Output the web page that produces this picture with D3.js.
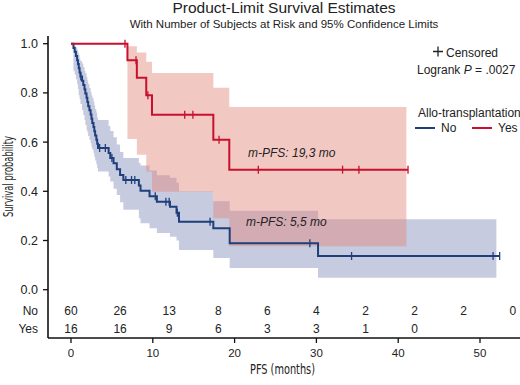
<!DOCTYPE html>
<html>
<head>
<meta charset="utf-8">
<script src="https://cdn.jsdelivr.net/npm/d3@7"></script>
<style>
  body { margin: 0; background: #fff; }
  svg text { font-family: "Liberation Sans", Arial, sans-serif; fill: #222; }
  svg .narrow { font-family: "Liberation Sans Narrow", "DejaVu Sans Condensed", sans-serif; }
</style>
</head>
<body>
<script>
// number at risk
var riskTimes = [0, 6, 12, 18, 24, 30, 36, 42, 48, 54];
var riskNo = [60, 26, 13, 8, 6, 4, 2, 2, 2, 0];
var riskYes = [16, 16, 9, 6, 3, 3, 1, 0];

// Allo-transplantation = Yes
var yesTime = [0, 6.9, 8.05, 9.2, 9.9, 17.4, 19.35];
var yesSurv = [1, 0.933, 0.862, 0.790, 0.711, 0.610, 0.488];
var yesLower = [1, 0.613, 0.549, 0.479, 0.398, 0.290, 0.177];
var yesUpper = [1, 0.990, 0.964, 0.927, 0.881, 0.821, 0.743];
var yesCensor = [6.6, 7.95, 9.4, 13.9, 14.9, 18.1, 22.9, 33.2, 35.2, 41.2];

// Allo-transplantation = No
var noTime = [0, 0.3, 0.45, 0.6, 0.75, 0.85, 0.95, 1.05, 1.15, 1.35, 1.5, 1.65, 1.75, 1.9, 2.0, 2.1, 2.25, 2.4, 2.5, 2.6, 2.75, 2.85, 2.95, 3.1, 3.2, 3.3,
  4.6, 4.8, 5.2, 5.6, 6.0, 6.4, 8.3, 8.5, 9.6, 10.5, 12.1, 12.9, 13.2, 17.4, 19.4, 30.2];
var noSurv = [1, 0.983, 0.967, 0.950, 0.933, 0.917, 0.900, 0.883, 0.867, 0.849, 0.832, 0.815, 0.798, 0.780, 0.763, 0.746, 0.729, 0.712, 0.695, 0.678, 0.661, 0.644, 0.627, 0.610, 0.593, 0.576,
  0.556, 0.535, 0.514, 0.490, 0.466, 0.446, 0.424, 0.402, 0.380, 0.358, 0.337, 0.313, 0.276, 0.250, 0.189, 0.137];
var noLower = [1, 0.89, 0.875, 0.855, 0.835, 0.815, 0.79, 0.775, 0.755, 0.73, 0.71, 0.69, 0.67, 0.65, 0.64, 0.625, 0.61, 0.595, 0.58, 0.57, 0.555, 0.54, 0.525, 0.51, 0.495, 0.48,
  0.46, 0.44, 0.41, 0.385, 0.355, 0.325, 0.29, 0.27, 0.25, 0.23, 0.215, 0.20, 0.161, 0.129, 0.088, 0.049];
var noUpper = [1, 0.998, 0.99, 0.985, 0.975, 0.965, 0.955, 0.94, 0.93, 0.92, 0.905, 0.89, 0.88, 0.865, 0.85, 0.835, 0.82, 0.805, 0.79, 0.78, 0.765, 0.75, 0.735, 0.72, 0.70, 0.69,
  0.665, 0.645, 0.62, 0.59, 0.56, 0.535, 0.515, 0.505, 0.485, 0.465, 0.455, 0.435, 0.40, 0.36, 0.321, 0.286];
var noCensor = [1.2, 3.5, 4.2, 5.0, 6.7, 7.4, 7.8, 10.3, 11.6, 12.0, 13.0, 17.0, 29.2, 34.3, 51.6, 52.4];

var xTicks = [0, 10, 20, 30, 40, 50];
var yTicks = [0, 0.2, 0.4, 0.6, 0.8, 1.0];

var blue = "#1f3f7c";
var red = "#c8102e";

var svg = d3.select("body").append("svg")
  .attr("width", 520)
  .attr("height", 385);

var x = d3.scaleLinear().domain([0, 50]).range([71, 480]);
var y = d3.scaleLinear().domain([0, 1]).range([289.7, 43.7]);

function rows(time, surv, lo, hi) {
  return time.map(function(t, i) { return {t: t, s: surv[i], lo: lo[i], hi: hi[i]}; });
}
var yesRows = rows(yesTime, yesSurv, yesLower, yesUpper);
var noRows = rows(noTime, noSurv, noLower, noUpper);

// survival value at a given time (step function)
function survAt(data, t) {
  var i = d3.bisectRight(data.map(function(d) { return d.t; }), t) - 1;
  return data[Math.max(i, 0)].s;
}
function extend(data, end) {
  var last = data[data.length - 1];
  return data.concat([{t: end, s: last.s, lo: last.lo, hi: last.hi}]);
}

var band = d3.area()
  .curve(d3.curveStepAfter)
  .x(function(d) { return x(d.t); })
  .y0(function(d) { return y(d.lo); })
  .y1(function(d) { return y(d.hi); });

var step = d3.line()
  .curve(d3.curveStepAfter)
  .x(function(d) { return x(d.t); })
  .y(function(d) { return y(d.s); });

// confidence bands
svg.append("path").datum(extend(noRows, 52.0))
  .attr("d", band).attr("fill", "#8d97c2").attr("fill-opacity", 0.5);
svg.append("path").datum(extend(yesRows, 41.0))
  .attr("d", band).attr("fill", "#e3857a").attr("fill-opacity", 0.45);

// annotations
svg.append("text").attr("x", 248).attr("y", 157)
  .style("font-size", "12px").style("font-style", "italic").text("m-PFS: 19,3 mo");
svg.append("text").attr("x", 246).attr("y", 226)
  .style("font-size", "12px").style("font-style", "italic").text("m-PFS: 5,5 mo");

// survival curves and censor marks
function curve(data, end, censor, color) {
  svg.append("path").datum(extend(data, end))
    .attr("d", step).attr("fill", "none")
    .attr("stroke", color).attr("stroke-width", 2);
  svg.selectAll(null).data(censor).enter().append("line")
    .attr("x1", function(d) { return x(d); })
    .attr("x2", function(d) { return x(d); })
    .attr("y1", function(d) { return y(survAt(data, d)) - 4; })
    .attr("y2", function(d) { return y(survAt(data, d)) + 4; })
    .attr("stroke", color).attr("stroke-width", 1.3);
}
curve(noRows, 52.4, noCensor, blue);
curve(yesRows, 41.2, yesCensor, red);

// axes
var axisColor = "#111";
svg.append("line").attr("x1", 48).attr("x2", 48).attr("y1", 36).attr("y2", 338)
  .attr("stroke", axisColor).attr("stroke-width", 1.6);
svg.append("line").attr("x1", 48).attr("x2", 520).attr("y1", 338).attr("y2", 338)
  .attr("stroke", axisColor).attr("stroke-width", 1.6);

svg.selectAll(".ytick").data(yTicks).enter().append("line")
  .attr("x1", 43).attr("x2", 48)
  .attr("y1", function(d) { return y(d); }).attr("y2", function(d) { return y(d); })
  .attr("stroke", axisColor).attr("stroke-width", 1.3);
svg.selectAll(".ylab").data(yTicks).enter().append("text")
  .attr("x", 38).attr("y", function(d) { return y(d) + 4.5; })
  .attr("text-anchor", "end").style("font-size", "12.5px")
  .text(function(d) { return d3.format(".1f")(d); });

svg.selectAll(".xtick").data(xTicks).enter().append("line")
  .attr("x1", function(d) { return x(d); }).attr("x2", function(d) { return x(d); })
  .attr("y1", 338).attr("y2", 343)
  .attr("stroke", axisColor).attr("stroke-width", 1.3);
svg.selectAll(".xlab").data(xTicks).enter().append("text")
  .attr("x", function(d) { return x(d); }).attr("y", 357)
  .attr("text-anchor", "middle").style("font-size", "11.5px")
  .text(function(d) { return d; });

svg.append("text").attr("class", "narrow")
  .attr("x", 250).attr("y", 374)
  .attr("textLength", 65).attr("lengthAdjust", "spacingAndGlyphs")
  .style("font-size", "14px").text("PFS (months)");
svg.append("text").attr("class", "narrow")
  .attr("transform", "translate(13,217) rotate(-90)")
  .attr("textLength", 81).attr("lengthAdjust", "spacingAndGlyphs")
  .style("font-size", "14px").text("Survival probability");

// at-risk table
svg.append("text").attr("x", 38).attr("y", 315).attr("text-anchor", "end")
  .style("font-size", "12px").text("No");
svg.append("text").attr("x", 38).attr("y", 333).attr("text-anchor", "end")
  .style("font-size", "12px").text("Yes");
svg.selectAll(".riskNo").data(riskNo).enter().append("text")
  .attr("x", function(d, i) { return x(riskTimes[i]); }).attr("y", 315)
  .attr("text-anchor", "middle").style("font-size", "12px")
  .text(function(d) { return d; });
svg.selectAll(".riskYes").data(riskYes).enter().append("text")
  .attr("x", function(d, i) { return x(riskTimes[i]); }).attr("y", 333)
  .attr("text-anchor", "middle").style("font-size", "12px")
  .text(function(d) { return d; });

// titles
svg.append("text").attr("x", 284).attr("y", 13).attr("text-anchor", "middle")
  .style("font-size", "15.5px").text("Product-Limit Survival Estimates");
svg.append("text").attr("x", 284).attr("y", 28).attr("text-anchor", "middle")
  .style("font-size", "11.5px").text("With Number of Subjects at Risk and 95% Confidence Limits");

// legend
svg.append("path").attr("d", "M433,51.5h10M438,46.5v10").attr("stroke", "#222").attr("stroke-width", 1.3);
svg.append("text").attr("x", 446).attr("y", 57).style("font-size", "12px").text("Censored");
var lr = svg.append("text").attr("x", 417).attr("y", 74).style("font-size", "12px");
lr.append("tspan").text("Logrank ");
lr.append("tspan").style("font-style", "italic").text("P");
lr.append("tspan").text(" = .0027");
svg.append("text").attr("x", 418).attr("y", 117).style("font-size", "12px").text("Allo-transplantation");
svg.append("line").attr("x1", 415).attr("x2", 435).attr("y1", 128).attr("y2", 128)
  .attr("stroke", blue).attr("stroke-width", 2);
svg.append("text").attr("x", 441).attr("y", 132).style("font-size", "12px").text("No");
svg.append("line").attr("x1", 472).attr("x2", 492).attr("y1", 128).attr("y2", 128)
  .attr("stroke", red).attr("stroke-width", 2);
svg.append("text").attr("x", 498).attr("y", 132).style("font-size", "12px").text("Yes");
</script>
</body>
</html>
